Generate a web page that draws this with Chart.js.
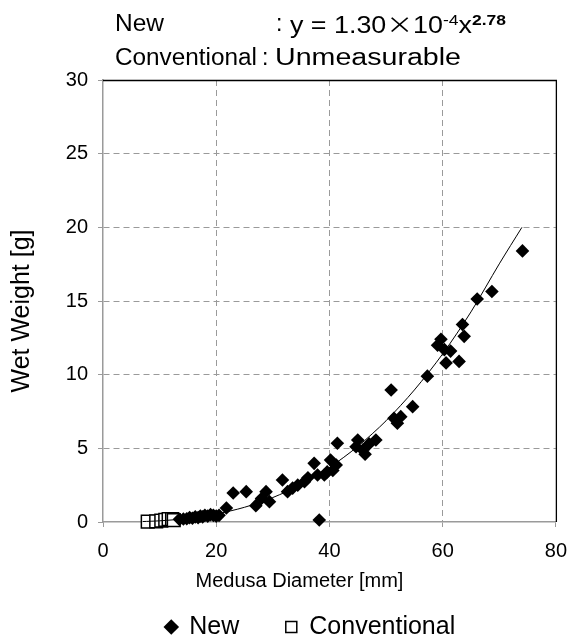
<!DOCTYPE html>
<html>
<head>
<meta charset="utf-8">
<script src="https://cdn.jsdelivr.net/npm/chart.js@4/dist/chart.umd.min.js"></script>
<style>
  html, body { margin: 0; padding: 0; background: #fff; }
  #wrap { position: relative; width: 579px; height: 641px; overflow: hidden; }
  canvas { position: absolute; left: 0; top: 0; }
  .lbl { position: absolute; font-family: 'Liberation Sans', Arial, sans-serif; font-size: 23px; color: #000; white-space: nowrap; line-height: 1; transform-origin: 0 0; }
  .cj { font-family: 'Noto Sans CJK JP', sans-serif; }
  sup { font-size: 15px; vertical-align: 8px; line-height: 0; }
</style>
</head>
<body>
<div id="wrap">
  <canvas id="c" width="579" height="641"></canvas>
  <span class="lbl" data-w="49" style="left:115px;top:12px;">New</span>
  <span class="lbl" style="left:276px;top:12px;">:</span>
  <span class="lbl" data-w="216" style="left:290px;top:12px;">y = 1.30<span class="cj">×</span>10<sup>-4</sup>x<sup><b>2.78</b></sup></span>
  <span class="lbl" data-w="142" style="left:115px;top:46px;">Conventional</span>
  <span class="lbl" style="left:262px;top:46px;">:</span>
  <span class="lbl" data-w="186" style="left:275px;top:46px;">Unmeasurable</span>
</div>
<script>
// ---- data ----
const newX = [13.5, 14.2, 14.8, 15.3, 15.8, 16.3, 16.8, 17.2, 17.6, 18.0, 18.5, 19.0, 19.5, 20.0, 20.5,
  21.8, 23.0, 25.3, 27.0, 28.0, 28.8, 29.4, 31.7, 32.6, 33.5, 34.4, 35.6, 36.2, 37.3, 37.9, 38.2,
  39.1, 39.6, 40.2, 40.6, 41.2, 41.4, 44.7, 45.0, 45.9, 46.3, 47.0, 48.2, 50.9, 51.4, 52.0, 52.6,
  54.7, 57.3, 59.1, 59.7, 60.3, 61.4, 60.6, 62.9, 63.8, 63.5, 66.1, 68.7, 74.1];
const newY = [0.18, 0.2, 0.22, 0.3, 0.25, 0.35, 0.3, 0.4, 0.35, 0.45, 0.4, 0.5, 0.45, 0.4, 0.45,
  0.95, 1.97, 2.06, 1.11, 1.6, 2.06, 1.38, 2.85, 2.06, 2.3, 2.5, 2.74, 3.0, 3.98, 3.19, 0.14,
  3.19, 3.4, 4.2, 3.5, 3.87, 5.34, 5.11, 5.57, 4.89, 4.6, 5.3, 5.57, 8.96, 7.04, 6.7, 7.15,
  7.83, 9.9, 12.0, 12.4, 11.7, 11.6, 10.8, 10.9, 12.6, 13.4, 15.14, 15.64, 18.4];
const convX = [7.9, 9.4, 10.3, 11.0, 11.6, 12.2, 12.5];
const convY = [0.02, 0.05, 0.1, 0.15, 0.2, 0.2, 0.12];
// fitted curve as drawn in the picture
const fitX = [7, 10, 15, 20, 25, 30, 35, 40, 45, 50, 55, 60, 65, 70, 74];
const fitY = [0.03, 0.08, 0.24, 0.54, 1.0, 1.66, 2.55, 3.7, 5.13, 6.87, 8.96, 11.41, 14.26, 17.52, 20.0];
const xTicks = [0, 20, 40, 60, 80];
const yTicks = [0, 5, 10, 15, 20, 25, 30];
const seriesNames = ['New', 'Conventional'];
const xTitle = 'Medusa Diameter [mm]';
const yTitle = 'Wet Weight [g]';

// stretch the header text pieces to the reference widths
document.querySelectorAll('.lbl[data-w]').forEach(el => {
  const w = el.getBoundingClientRect().width;
  const target = parseFloat(el.dataset.w);
  el.style.transform = 'scaleX(' + (target / w) + ')';
});

const toPts = (xs, ys) => xs.map((x, i) => ({x: x, y: ys[i]}));

// axis titles in the reference sit slightly off the plot centre
const titleShift = { x: -30, y: 10 };

const borderPlugin = {
  id: 'borders',
  afterLayout(chart) {
    const lg = chart.legend;
    if (lg) {
      const dx = 31.5;
      lg.left += dx; lg.right += dx;
      lg.top = 568; lg.bottom = 641; lg.height = 73;
    }
  },
  afterDatasetsDraw(chart) {
    const {ctx, chartArea: a} = chart;
    ctx.save();
    ctx.strokeStyle = '#000';
    ctx.lineWidth = 1.3;
    ctx.beginPath();
    ctx.moveTo(a.left, a.top + 0.5);
    ctx.lineTo(a.right + 0.5, a.top + 0.5);
    ctx.lineTo(a.right + 0.5, a.bottom);
    ctx.stroke();
    ctx.restore();
  },
  afterDraw(chart) {
    const {ctx, chartArea: a} = chart;
    ctx.save();
    ctx.fillStyle = '#000';
    ctx.textAlign = 'center';
    ctx.textBaseline = 'middle';
    ctx.font = '20px "Liberation Sans"';
    ctx.fillText(xTitle, (a.left + a.right) / 2 + titleShift.x, 581);
    ctx.translate(22, (a.top + a.bottom) / 2 + titleShift.y);
    ctx.rotate(-Math.PI / 2);
    ctx.font = '25px "Liberation Sans"';
    ctx.fillText(yTitle, 0, 0);
    ctx.restore();
  }
};

const font = 'Liberation Sans';
new Chart(document.getElementById('c'), {
  type: 'scatter',
  data: {
    datasets: [
      {
        label: 'fit', type: 'line', data: toPts(fitX, fitY), clip: false,
        borderColor: '#000', borderWidth: 1, pointRadius: 0, tension: 0.3, order: 0, fill: false
      },
      {
        label: seriesNames[0], data: toPts(newX, newY), clip: false,
        pointStyle: 'rectRot', pointRadius: 6.8, backgroundColor: '#000', borderColor: '#000', borderWidth: 0, order: 1
      },
      {
        label: seriesNames[1], data: toPts(convX, convY), clip: false,
        pointStyle: 'rect', pointRadius: 9, backgroundColor: '#fff', borderColor: '#000', borderWidth: 1.5, order: 2
      }
    ]
  },
  options: {
    responsive: false,
    animation: false,
    events: [],
    layout: { padding: { top: 80, right: 21, left: 0, bottom: 0 } },
    plugins: {
      tooltip: { enabled: false },
      legend: {
        position: 'bottom',
        maxHeight: 47,
        labels: {
          filter: (item) => item.text !== 'fit',
          usePointStyle: true,
          boxWidth: 11, boxHeight: 11,
          padding: 46.5,
          color: '#000',
          font: { family: font, size: 25 }
        }
      }
    },
    scales: {
      x: {
        type: 'linear', min: 0, max: 80,
        afterBuildTicks: (s) => { s.ticks = xTicks.map(v => ({value: v})); },
        ticks: { color: '#000', font: { family: font, size: 20 }, padding: 12 },
        grid: { color: (c) => (c.tick && (c.tick.value === 0 || c.tick.value === 80)) ? 'rgba(0,0,0,0)' : '#9a9a9a', tickLength: 5, tickColor: '#9a9a9a', tickBorderDash: [] },
        border: { display: true, color: '#9a9a9a', width: 1.5, dash: [6, 4] },
        title: { display: false },
        afterFit: (s) => { s.height = 72; }
      },
      y: {
        type: 'linear', min: 0, max: 30,
        afterBuildTicks: (s) => { s.ticks = yTicks.map(v => ({value: v})); },
        ticks: { color: '#000', font: { family: font, size: 20 }, padding: 10 },
        grid: { color: (c) => (c.tick && (c.tick.value === 0 || c.tick.value === 30)) ? 'rgba(0,0,0,0)' : '#9a9a9a', tickLength: 5, tickColor: '#9a9a9a', tickBorderDash: [] },
        border: { display: true, color: '#9a9a9a', width: 1.5, dash: [6, 4] },
        title: { display: false },
        afterFit: (s) => { s.width = 103; }
      }
    }
  },
  plugins: [borderPlugin]
});
</script>
</body>
</html>
